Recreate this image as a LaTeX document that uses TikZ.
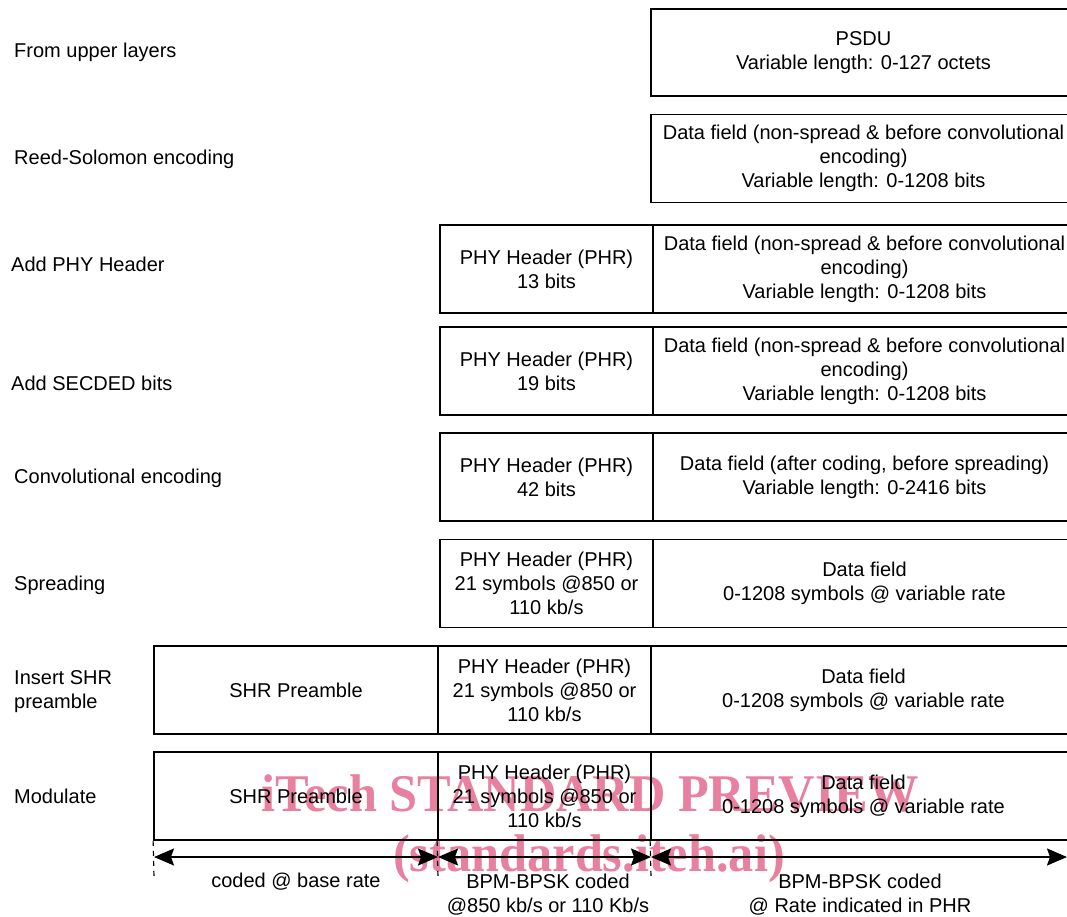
\documentclass[tikz,border=0pt]{standalone}
\usepackage{fontspec}
\setmainfont{Liberation Sans}
\newfontfamily\wmfont{Liberation Serif}
\usetikzlibrary{arrows.meta}
\definecolor{wmpink}{RGB}{232,128,160}
\begin{document}
\begin{tikzpicture}[x=1pt,y=-1pt,
  fld/.style={draw=black,line width=1.8pt,inner sep=0pt,align=center,
    font=\fontsize{20}{24}\selectfont},
  lbl/.style={anchor=base west,inner sep=0pt,align=left,
    font=\fontsize{20}{24}\selectfont},
  btm/.style={anchor=base,inner sep=0pt,align=center,font=\fontsize{20}{24}\selectfont},
  dimarrow/.style={line width=1.8pt,{Stealth[length=20pt,width=17pt,inset=3pt]}-{Stealth[length=20pt,width=17pt,inset=3pt]}},
  tick/.style={line width=1.2pt,dash pattern=on 5pt off 5pt},
  wm/.style={inner sep=0pt,text=wmpink,font=\wmfont\bfseries\fontsize{53}{53}\selectfont,xscale=0.95,anchor=base}
]
\useasboundingbox (0,0) rectangle (1067,916);

% watermark (under the drawing)
\node[wm] (wm1) at (590,811) {iTech STANDARD PREVIEW};
\node[wm] (wm2) at (589,871) {(standards.iteh.ai)};

% left labels (baseline of the last line)
\node[lbl] (l1) at (14,57) {From upper layers};
\node[lbl] (l2) at (14,164) {Reed-Solomon encoding};
\node[lbl] (l3) at (11,271) {Add PHY Header};
\node[lbl] (l4) at (11,390) {Add SECDED bits};
\node[lbl] (l5) at (14,483) {Convolutional encoding};
\node[lbl] (l6) at (14,590) {Spreading};
\node[lbl] (l7) at (14,708) {Insert SHR\\preamble};
\node[lbl] (l8) at (14,803) {Modulate};

% row 1
\node[fld,minimum width=425pt,minimum height=87pt] (d1) at (863.5,52.5)
  {PSDU\\Variable length: 0-127 octets};
% row 2
\node[fld,minimum width=425pt,minimum height=88pt] (d2) at (863.5,158.5)
  {Data field (non-spread \& before convolutional\\encoding)\\Variable length: 0-1208 bits};
% row 3
\node[fld,minimum width=213pt,minimum height=88pt] (p3) at (546.5,269)
  {PHY Header (PHR)\\13 bits};
\node[fld,minimum width=423pt,minimum height=88pt] (d3) at (864.5,269)
  {Data field (non-spread \& before convolutional\\encoding)\\Variable length: 0-1208 bits};
% row 4
\node[fld,minimum width=213pt,minimum height=88pt] (p4) at (546.5,371)
  {PHY Header (PHR)\\19 bits};
\node[fld,minimum width=423pt,minimum height=88pt] (d4) at (864.5,371)
  {Data field (non-spread \& before convolutional\\encoding)\\Variable length: 0-1208 bits};
% row 5
\node[fld,minimum width=213pt,minimum height=88pt] (p5) at (546.5,477)
  {PHY Header (PHR)\\42 bits};
\node[fld,minimum width=423pt,minimum height=88pt] (d5) at (864.5,477)
  {Data field (after coding, before spreading)\\Variable length: 0-2416 bits};
% row 6
\node[fld,minimum width=213pt,minimum height=88pt] (p6) at (546.5,583.5)
  {PHY Header (PHR)\\21 symbols @850 or\\110 kb/s};
\node[fld,minimum width=423pt,minimum height=88pt] (d6) at (864.5,583.5)
  {Data field\\0-1208 symbols @ variable rate};
% row 7
\node[fld,minimum width=284pt,minimum height=88pt] (s7) at (296,690)
  {SHR Preamble};
\node[fld,minimum width=213pt,minimum height=88pt] (p7) at (544.5,690)
  {PHY Header (PHR)\\21 symbols @850 or\\110 kb/s};
\node[fld,minimum width=425pt,minimum height=88pt] (d7) at (863.5,690)
  {Data field\\0-1208 symbols @ variable rate};
% row 8
\node[fld,minimum width=284pt,minimum height=88pt] (s8) at (296,796)
  {SHR Preamble};
\node[fld,minimum width=213pt,minimum height=88pt] (p8) at (544.5,796)
  {PHY Header (PHR)\\21 symbols @850 or\\110 kb/s};
\node[fld,minimum width=425pt,minimum height=88pt] (d8) at (863.5,796)
  {Data field\\0-1208 symbols @ variable rate};

% dimension ticks and arrows
\coordinate (a0) at (154,857);
\coordinate (a1) at (438,857);
\coordinate (a2) at (651,857);
\coordinate (a3) at (1067,857);
\coordinate (e0) at (154,878);
\coordinate (e1) at (438,878);
\coordinate (e2) at (651,878);
\draw[tick] (s8.south west) -- (e0);
\draw[tick] (p8.south west) -- (e1);
\draw[tick] (d8.south west) -- (e2);
\draw[dimarrow] (a0) -- (a1);
\draw[dimarrow] (a1) -- (a2);
\draw[dimarrow] (a2) -- (a3);

\node[btm] (b1) at (296,887) {coded @ base rate};
\node[btm] (b2) at (548,912) {BPM-BPSK coded\\@850 kb/s or 110 Kb/s};
\node[btm] (b3) at (860,912) {BPM-BPSK coded\\@ Rate indicated in PHR};
\end{tikzpicture}
\end{document}
